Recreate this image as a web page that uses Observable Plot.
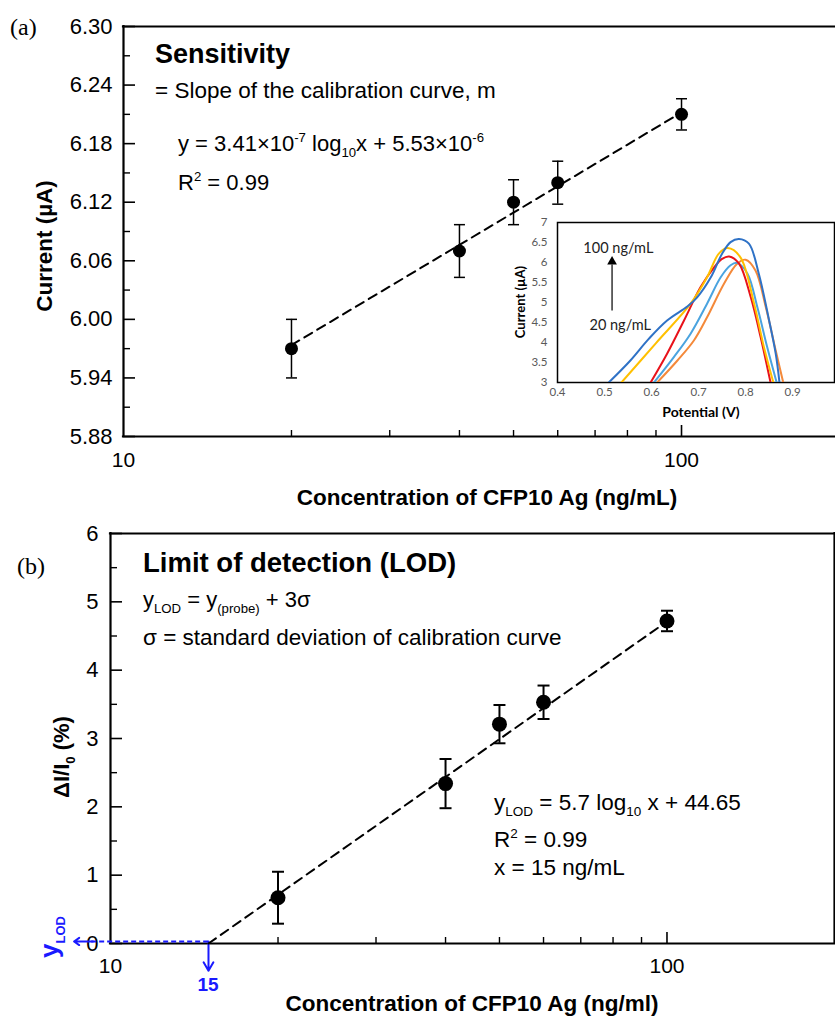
<!DOCTYPE html>
<html><head><meta charset="utf-8">
<script src="https://cdn.jsdelivr.net/npm/d3@7"></script>
<script src="https://cdn.jsdelivr.net/npm/@observablehq/plot@0.6"></script>
<style>
html,body{margin:0;padding:0;background:#fff;}
#wrap{position:relative;width:835px;height:1017px;overflow:hidden;background:#fff;}
</style></head><body><div id="wrap"></div>
<script>
// ---------- Panel (a): sensitivity ----------
const concA = [20, 40, 50, 60, 100];              // ng/mL
const currentA = [5.97, 6.07, 6.12, 6.14, 6.21];  // µA
const errA = [0.03, 0.027, 0.023, 0.022, 0.016];
const fitSlopeA = 0.341, fitInterceptA = 5.53;   // µA per decade, µA
const fitRangeA = [20, 100];
const xDomainA = [10, 188];
const yDomainA = [5.88, 6.30];
const yMajorA = [5.88, 5.94, 6.00, 6.06, 6.12, 6.18, 6.24, 6.30];
const yMinorA = [5.91, 5.97, 6.03, 6.09, 6.15, 6.21, 6.27];
const xLabelsA = [10, 100];
const xMinorTicks = [20, 30, 40, 50, 60, 70, 80, 90];

// ---------- Inset: DPV curves (potential V, current µA) ----------
const dpv100 = [[0.509,3],[0.555,3.55],[0.594,4.09],[0.633,4.55],[0.676,4.90],[0.697,5.13],[0.726,5.63],[0.750,6.22],[0.768,6.51],[0.786,6.59],[0.807,6.47],[0.828,5.72],[0.850,4.55],[0.864,3.72],[0.872,3]];
const dpvYellow = [[0.536,3],[0.609,3.98],[0.683,4.97],[0.718,5.63],[0.743,6.22],[0.762,6.36],[0.789,6.13],[0.818,4.97],[0.839,3.88],[0.859,3]];
const dpvRed = [[0.598,3],[0.633,3.72],[0.669,4.55],[0.704,5.38],[0.733,5.88],[0.750,6.09],[0.765,6.15],[0.786,5.97],[0.811,5.13],[0.832,4.13],[0.853,3]];
const dpvLightBlue = [[0.605,3],[0.647,3.63],[0.683,4.22],[0.718,4.97],[0.747,5.63],[0.768,5.93],[0.782,5.99],[0.804,5.72],[0.825,4.88],[0.846,3.88],[0.866,3]];
const dpvOrange = [[0.612,3],[0.655,3.55],[0.690,4.05],[0.718,4.63],[0.754,5.47],[0.782,5.97],[0.800,6.07],[0.821,5.80],[0.843,4.88],[0.864,3.80],[0.880,3]];
const insetSeries = [
  {name: "orange", color: "#F4893A", pts: dpvOrange},
  {name: "lightblue", color: "#4AA3DF", pts: dpvLightBlue},
  {name: "red", color: "#E8121A", pts: dpvRed},
  {name: "yellow", color: "#FFC000", pts: dpvYellow},
  {name: "blue", color: "#2F72C6", pts: dpv100}
];
const xDomainInset = [0.4, 0.989];
const yDomainInset = [3, 7];
const xTicksInset = [0.4, 0.5, 0.6, 0.7, 0.8, 0.9];
const yTicksInset = [3, 3.5, 4, 4.5, 5, 5.5, 6, 6.5, 7];
const insetArrow = {x: 0.516, from: 4.8, to: 5.95, head: 6.02};
const insetLabels = [{x: 0.455, y: 6.35, text: "100 ng/mL"}, {x: 0.468, y: 4.43, text: "20 ng/mL"}];

// ---------- Panel (b): LOD ----------
const concB = [20, 40, 50, 60, 100];
const signalB = [0.67, 2.34, 3.21, 3.53, 4.72];   // ΔI/I0 (%)
const errB = [0.38, 0.36, 0.28, 0.245, 0.15];
const lodX = 15, slopeB = 5.72;                    // fit: y = slope*(log10 x - log10 15)
const fitEndB = 100;
const lodY = 0.03;
const lodArrowTipX = 8.6, lodArrowDropY = -0.40;
const xDomainB = [10, 200];
const yDomainB = [0, 6];
const yMajorB = [0, 1, 2, 3, 4, 5, 6];
const yMinorB = [0.5, 1.5, 2.5, 3.5, 4.5, 5.5];
const xLabelsB = [10, 100];

// ---------- helpers ----------
const FONT = "'Liberation Sans', Arial, Helvetica, sans-serif";
const SERIF = "'Liberation Serif', 'Times New Roman', serif";
const INSETFONT = "Lato, 'Open Sans', sans-serif";
const BLUE = "#1a1aff";
const wrap = document.getElementById("wrap");
function place(el, left, top) {
  el.style.position = "absolute"; el.style.left = left + "px"; el.style.top = top + "px";
  wrap.appendChild(el);
}
const capSymbol = {draw(ctx, size) { const w = Math.sqrt(size / Math.PI); ctx.moveTo(-w, 0); ctx.lineTo(w, 0); }};

function panel({W, H, mL, mT, mB, mR, xDomain, yDomain, xLabels, xMinor, yMajor, yMinor, yFormat, yFont, xFont, xPad, yPad, rightBorder, extra}) {
  const iw = W - mL - mR, ih = H - mT - mB;
  return Plot.plot({
    width: W, height: H, marginLeft: mL, marginTop: mT, marginBottom: mB, marginRight: mR,
    style: {fontFamily: FONT, background: "transparent", overflow: "visible", color: "black"},
    x: {type: "log", domain: xDomain},
    y: {domain: yDomain},
    marks: [
      Plot.ruleX(xLabels.slice(1), {insetTop: ih - 11, strokeWidth: 1.6}),
      Plot.ruleX(xMinor, {insetTop: ih - 6, strokeWidth: 1.4}),
      Plot.ruleY(yMajor, {insetRight: iw - 12, strokeWidth: 1.6}),
      Plot.ruleY(yMinor, {insetRight: iw - 7, strokeWidth: 1.4}),
      Plot.ruleY([yDomain[0]], {strokeWidth: 2.2, strokeLinecap: "square"}),
      Plot.ruleY([yDomain[1]], {strokeWidth: 2.2, strokeLinecap: "square"}),
      Plot.ruleX([xDomain[0]], {strokeWidth: 2.2, strokeLinecap: "square"}),
      rightBorder ? Plot.ruleX([xDomain[1]], {strokeWidth: 2.2, strokeLinecap: "square"}) : null,
      Plot.axisY(yMajor, {anchor: "left", tickSize: 0, tickPadding: yPad, fontSize: yFont, tickFormat: yFormat, label: null}),
      Plot.axisX(xLabels, {anchor: "bottom", tickSize: 0, tickPadding: xPad, fontSize: xFont, tickFormat: d => String(d), label: null}),
      ...extra
    ]
  });
}

function errorMarks(pts, r, cap, sw) {
  return [
    Plot.ruleX(pts, {x: "c", y1: d => d.y - d.e, y2: d => d.y + d.e, strokeWidth: sw}),
    Plot.dot(pts, {x: "c", y: d => d.y + d.e, symbol: capSymbol, r: cap, stroke: "black", fill: "none", strokeWidth: sw}),
    Plot.dot(pts, {x: "c", y: d => d.y - d.e, symbol: capSymbol, r: cap, stroke: "black", fill: "none", strokeWidth: sw}),
    Plot.dot(pts, {x: "c", y: "y", r, fill: "black", stroke: "none"})
  ];
}

// ---------- Panel (a) ----------
const pointsA = concA.map((c, i) => ({c, y: currentA[i], e: errA[i]}));
const fitA = fitRangeA.map(c => ({c, y: fitSlopeA * Math.log10(c) + fitInterceptA}));
const plotA = panel({
  W: 835, H: 520, mL: 123, mT: 26, mB: 84, mR: 1,
  xDomain: xDomainA, yDomain: yDomainA, xLabels: xLabelsA, xMinor: xMinorTicks,
  yMajor: yMajorA, yMinor: yMinorA, yFormat: d3.format(".2f"), yFont: 22, xFont: 21, xPad: 16, yPad: 11,
  rightBorder: false,
  extra: [
    Plot.line(fitA, {x: "c", y: "y", strokeDasharray: "9,6", strokeWidth: 2}),
    ...errorMarks(pointsA, 6.5, 5.5, 1.5)
  ]
});
place(plotA, 0, 0);

// ---------- Panel (b) ----------
const pointsB = concB.map((c, i) => ({c, y: signalB[i], e: errB[i]}));
const fitB = [lodX, fitEndB].map(c => ({c, y: slopeB * (Math.log10(c) - Math.log10(lodX))}));
const plotB = panel({
  W: 835, H: 502, mL: 110, mT: 18, mB: 74, mR: 1,
  xDomain: xDomainB, yDomain: yDomainB, xLabels: xLabelsB, xMinor: xMinorTicks,
  yMajor: yMajorB, yMinor: yMinorB, yFormat: d => String(d), yFont: 22, xFont: 21, xPad: 15, yPad: 12,
  rightBorder: true,
  extra: [
    Plot.ruleY([lodY], {x1: 9.25, x2: lodX, stroke: BLUE, strokeWidth: 2, strokeDasharray: "5,3"}),
    Plot.arrow([{x1: 9.3, x2: lodArrowTipX}], {x1: "x1", x2: "x2", y1: lodY, y2: lodY, stroke: BLUE, strokeWidth: 2, headLength: 10, headAngle: 70}),
    Plot.arrow([{x: lodX}], {x1: "x", x2: "x", y1: lodY, y2: lodArrowDropY, stroke: BLUE, strokeWidth: 2, headLength: 10, headAngle: 60}),
    Plot.line(fitB, {x: "c", y: "y", strokeDasharray: "9,6", strokeWidth: 2}),
    ...errorMarks(pointsB, 7.5, 6, 2)
  ]
});
place(plotB, 0, 515);

// ---------- Inset ----------
const inset = Plot.plot({
  width: 335, height: 220, marginLeft: 57, marginTop: 12, marginBottom: 48, marginRight: 1,
  style: {fontFamily: INSETFONT, background: "transparent", overflow: "visible", color: "black"},
  x: {domain: xDomainInset},
  y: {domain: yDomainInset},
  marks: [
    Plot.frame({fill: "white", stroke: "black", strokeWidth: 1.5}),
    Plot.axisY(yTicksInset, {anchor: "left", tickSize: 0, tickPadding: 10, fontSize: 11.5, fill: "#595959", tickFormat: d => String(d), label: null}),
    Plot.axisX(xTicksInset, {anchor: "bottom", tickSize: 0, tickPadding: 5, fontSize: 11.5, fill: "#595959", tickFormat: d => d.toFixed(1), label: null}),
    ...insetSeries.map(s => Plot.line(s.pts, {x: d => d[0], y: d => d[1], stroke: s.color, strokeWidth: 2, curve: "catmull-rom", clip: true})),
    Plot.link([insetArrow], {x1: "x", x2: "x", y1: "from", y2: "to", stroke: "black", strokeWidth: 1.2}),
    Plot.dot([insetArrow], {x: "x", y: "head", symbol: "triangle", r: 3.6, fill: "black", stroke: "none"}),
    Plot.text(insetLabels, {x: "x", y: "y", text: "text", textAnchor: "start", fontSize: 14.5, fill: "#222"})
  ]
});
place(inset, 500, 210);

// ---------- Overlay text ----------
const ov = d3.create("svg").attr("width", 835).attr("height", 1017).style("overflow", "visible");
function rich(str, {x, y, size, weight = "normal", anchor = "start", fill = "black", family = FONT, rotate = 0, scale = 0.6, sub = 0.28, sup = 0.4}) {
  const t = ov.append("text").attr("font-family", family).attr("font-size", size)
    .attr("font-weight", weight).attr("fill", fill).attr("text-anchor", anchor);
  if (rotate) t.attr("transform", `translate(${x},${y}) rotate(${rotate})`);
  else t.attr("x", x).attr("y", y);
  const parts = str.split(/(_\{[^}]*\}|\^\{[^}]*\})/).filter(s => s.length);
  let shift = 0;
  for (const p of parts) {
    let target = 0, txt = p, fs = size;
    if (p.startsWith("_{")) { target = size * sub; txt = p.slice(2, -1); fs = size * scale; }
    else if (p.startsWith("^{")) { target = -size * sup; txt = p.slice(2, -1); fs = size * scale; }
    t.append("tspan").attr("dy", target - shift).attr("font-size", fs).text(txt);
    shift = target;
  }
}
// panel a
rich("(a)", {x: 10, y: 35, size: 24, family: SERIF});
rich("Sensitivity", {x: 155, y: 63, size: 27, weight: "bold"});
rich("= Slope of the calibration curve, m", {x: 155, y: 98, size: 22.5});
rich("y = 3.41×10^{-7} log_{10}x + 5.53×10^{-6}", {x: 178, y: 151, size: 22});
rich("R^{2} = 0.99", {x: 178, y: 190, size: 22});
rich("Current (µA)", {x: 52, y: 246, size: 22.5, weight: "bold", anchor: "middle", rotate: -90});
rich("Concentration of CFP10 Ag (ng/mL)", {x: 487, y: 505, size: 22.5, weight: "bold", anchor: "middle"});
// inset
rich("Current (µA)", {x: 525, y: 302, size: 13, weight: "bold", anchor: "middle", rotate: -90, family: INSETFONT});
rich("Potential (V)", {x: 701, y: 417, size: 14, weight: "bold", anchor: "middle", family: INSETFONT});
// panel b
rich("(b)", {x: 17, y: 574, size: 24, family: SERIF});
rich("Limit of detection (LOD)", {x: 143, y: 572, size: 27.5, weight: "bold"});
rich("y_{LOD} = y_{(probe)} + 3σ", {x: 143, y: 607, size: 22});
rich("σ = standard deviation of calibration curve", {x: 143, y: 645, size: 22.5});
rich("y_{LOD} = 5.7 log_{10} x + 44.65", {x: 494, y: 810, size: 22.5});
rich("R^{2} = 0.99", {x: 494, y: 847, size: 22.5});
rich("x = 15 ng/mL", {x: 494, y: 875, size: 22.5});
rich("ΔI/I_{0} (%)", {x: 69, y: 757, size: 22, weight: "bold", anchor: "middle", rotate: -90});
rich("Concentration of CFP10 Ag (ng/ml)", {x: 472, y: 1011, size: 22.5, weight: "bold", anchor: "middle"});
rich("15", {x: 208, y: 991, size: 19, weight: "bold", anchor: "middle", fill: BLUE});
rich("y_{LOD}", {x: 58, y: 937, size: 26, weight: "bold", anchor: "middle", rotate: -90, fill: BLUE, scale: 0.5, sub: 0.25});
place(ov.node(), 0, 0);
</script></body></html>
